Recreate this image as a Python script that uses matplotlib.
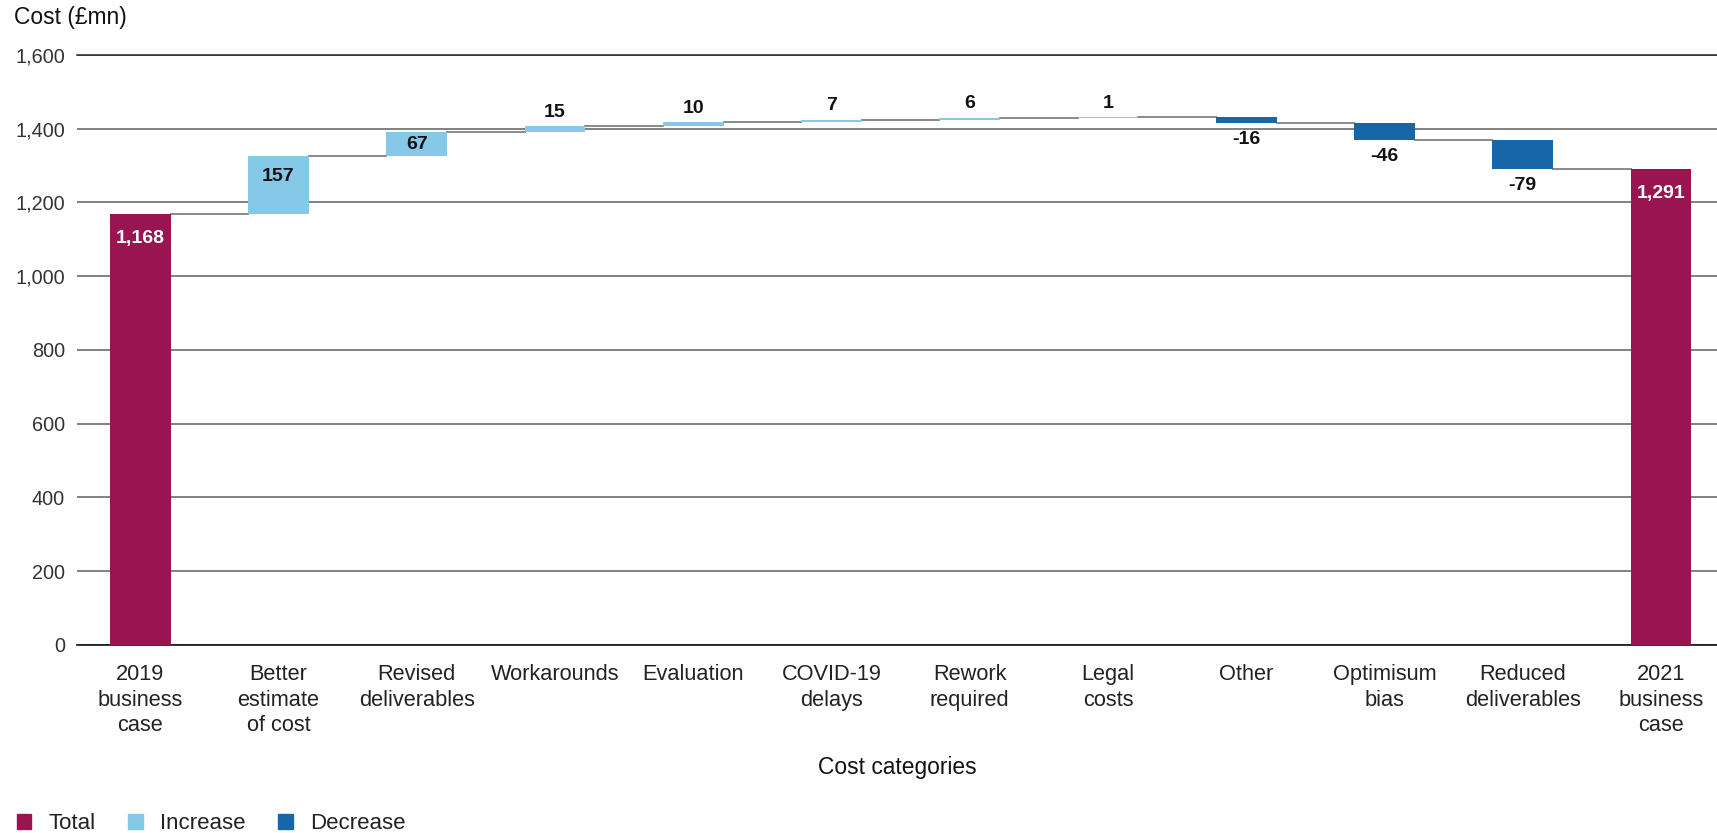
import numpy as np
import matplotlib
matplotlib.use("Agg")
import matplotlib.pyplot as plt
from matplotlib.patches import Patch

plt.rcParams['font.family'] = ['Liberation Sans', 'DejaVu Sans']

categories = ["2019\nbusiness\ncase", "Better\nestimate\nof cost", "Revised\ndeliverables",
              "Workarounds", "Evaluation", "COVID-19\ndelays", "Rework\nrequired",
              "Legal\ncosts", "Other", "Optimisum\nbias", "Reduced\ndeliverables",
              "2021\nbusiness\ncase"]
values = [1168, 157, 67, 15, 10, 7, 6, 1, -16, -46, -79, 1291]
kinds = ["total", "inc", "inc", "inc", "inc", "inc", "inc", "inc", "dec", "dec", "dec", "total"]
labels = ["1,168", "157", "67", "15", "10", "7", "6", "1", "-16", "-46", "-79", "1,291"]
yticks = [0, 200, 400, 600, 800, 1000, 1200, 1400, 1600]

colors = {"total": "#981552", "inc": "#85c8e8", "dec": "#1767a8"}

fig = plt.figure(figsize=(17.17, 8.33), dpi=100)
ax = fig.add_axes([0.045, 0.2257, 0.955, 0.7083])

# bottoms of the floating bars
bottoms = []
ends = []
level = 0
for v, k in zip(values, kinds):
    if k == "total":
        bottoms.append(0)
        level = v
    else:
        bottoms.append(level if v > 0 else level + v)
        level = level + v
    ends.append(level)

x = np.arange(len(values))
w = 0.44
heights = [abs(v) for v in values]
ax.bar(x, heights, bottom=bottoms, width=w, color=[colors[k] for k in kinds], zorder=3)

# connectors
for i in range(len(values) - 1):
    ax.plot([x[i] + w / 2, x[i + 1] - w / 2], [ends[i], ends[i]], color="#8a8a8a", lw=1.4, zorder=2)

lab_fs = 14
for i, (v, k) in enumerate(zip(values, kinds)):
    top = bottoms[i] + heights[i]
    if k == "total":
        ax.annotate(labels[i], (x[i], top), xytext=(0, -17.5), textcoords="offset points",
                    ha="center", va="center", color="white", fontsize=lab_fs, fontweight="bold", zorder=4)
    elif k == "inc":
        if v > 50:
            yy = max(bottoms[i] + v / 2, top - 55)
            ax.text(x[i], yy, labels[i], ha="center", va="center", fontsize=lab_fs,
                    fontweight="bold", color="#111111", zorder=4)
        else:
            ax.annotate(labels[i], (x[i], top), xytext=(0, 10), textcoords="offset points",
                        ha="center", va="center", fontsize=lab_fs, fontweight="bold", color="#111111")
    else:
        ax.annotate(labels[i], (x[i], bottoms[i]), xytext=(0, -12), textcoords="offset points",
                    ha="center", va="center", fontsize=lab_fs, fontweight="bold", color="#111111")

ax.set_xlim(-0.455, len(values) - 1 + 0.405)
ax.set_ylim(0, 1600)
ax.set_yticks(yticks)
ax.set_yticklabels([f"{t:,}" for t in yticks], fontsize=14.3, color="#333333")
ax.set_xticks(x)
ax.set_xticklabels(categories, fontsize=15.7, color="#222222", linespacing=1.27)
ax.tick_params(axis="both", length=0)
ax.tick_params(axis="y", pad=9)
ax.tick_params(axis="x", pad=14)

ax.grid(axis="y", color="#5f5f5f", lw=1.1, zorder=0)
ax.set_axisbelow(True)
for s in ["left", "right"]:
    ax.spines[s].set_visible(False)
ax.spines["top"].set_color("#222222")
ax.spines["bottom"].set_color("#111111")
ax.spines["top"].set_linewidth(1.1)
ax.spines["bottom"].set_linewidth(1.2)

ax.set_xlabel("Cost categories", fontsize=16.4, color="#111111")
ax.xaxis.set_label_coords(0.5, -0.208)
ax.xaxis.label.set_verticalalignment("center")

fig.text(0.008, 0.979, "Cost (£mn)", fontsize=16.4, color="#111111", ha="left", va="center")

handles = [Patch(color=colors["total"], label="Total"),
           Patch(color=colors["inc"], label="Increase"),
           Patch(color=colors["dec"], label="Decrease")]
fig.legend(handles=handles, loc="center left", bbox_to_anchor=(0.0045, 0.011), ncol=3,
           frameon=False, fontsize=16, handlelength=0.65, handleheight=0.65,
           handletextpad=0.8, columnspacing=1.45, labelcolor="#222222", borderaxespad=0)

fig.savefig("out.png", dpi=100)
